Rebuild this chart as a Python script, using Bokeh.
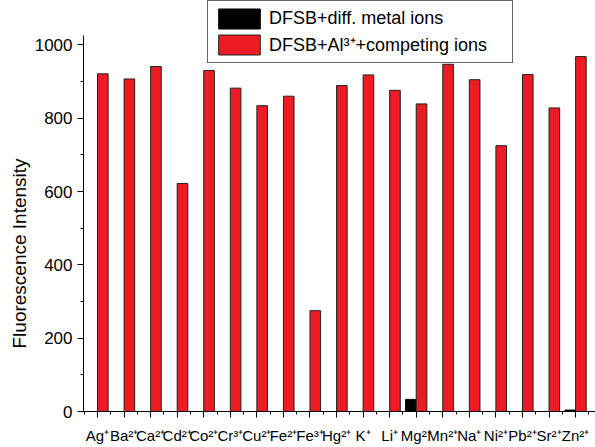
import numpy as np
from bokeh.plotting import figure
from bokeh.models import (ColumnDataSource, FixedTicker, SingleIntervalTicker,
                          Range1d, Legend, LegendItem, Title)
from bokeh.transform import dodge
from bokeh.embed import file_html
from bokeh.resources import INLINE

# ---- data ----
ions = ["Ag⁺", "Ba²⁺", "Ca²⁺", "Cd²⁺", "Co²⁺", "Cr³⁺", "Cu²⁺", "Fe²⁺", "Fe³⁺",
        "Hg²⁺", "K⁺", "Li⁺", "Mg²⁺", "Mn²⁺", "Na⁺", "Ni²⁺", "Pb²⁺", "Sr²⁺", "Zn²⁺"]
metal_only = [0, 0, 0, 0, 0, 0, 0, 0, 0, 0, 0, 0, 33, 0, 0, 0, 0, 0, 4]
with_al = [921, 907, 941, 622, 930, 882, 834, 860, 275, 889, 918, 876, 839,
           947, 905, 725, 919, 828, 968]
series_names = ["DFSB+diff. metal ions", "DFSB+Al³⁺+competing ions"]
y_title = "Fluorescence Intensity"
y_ticks_interval = 200

FONT = "Liberation Sans"

src = ColumnDataSource(dict(x=np.arange(len(ions)), a=metal_only, b=with_al))

p = figure(width=595, height=447, output_backend="svg", toolbar_location=None,
           x_range=Range1d(-0.5275, 18.75), y_range=Range1d(0, 1121),
           min_border_left=83, min_border_right=0, min_border_top=0,
           min_border_bottom=36, background_fill_color="white",
           border_fill_color="white")
p.outline_line_color = None
p.grid.visible = False

r_black = p.vbar(x=dodge("x", -0.2, range=p.x_range), top="a", width=0.4,
                 source=src, fill_color="black", line_color="black", line_width=1)
r_red = p.vbar(x=dodge("x", 0.2, range=p.x_range), top="b", width=0.4,
               source=src, fill_color="#ED1C24", line_color="#222222", line_width=1)

# x axis
xa = p.xaxis[0]
xa.ticker = FixedTicker(ticks=list(range(len(ions))),
                        minor_ticks=[i - 0.5 for i in range(len(ions) + 1)])
xa.major_label_overrides = {i: s for i, s in enumerate(ions)}
xa.major_label_text_font = FONT
xa.major_label_text_font_size = "15px"
xa.major_label_text_color = "black"
xa.major_label_standoff = 9
xa.major_tick_in = 0
xa.major_tick_out = 6
xa.minor_tick_in = 0
xa.minor_tick_out = 3
xa.axis_line_color = "black"
xa.major_tick_line_color = "black"
xa.minor_tick_line_color = "black"

# y axis
ya = p.yaxis[0]
ya.ticker = SingleIntervalTicker(interval=y_ticks_interval, num_minor_ticks=2)
ya.bounds = (0, 1025)
ya.major_label_text_font = FONT
ya.major_label_text_font_size = "17px"
ya.major_label_text_color = "black"
ya.major_label_standoff = 5
ya.major_tick_in = 0
ya.major_tick_out = 6
ya.minor_tick_in = 0
ya.minor_tick_out = 3
ya.axis_line_color = "black"
ya.major_tick_line_color = "black"
ya.minor_tick_line_color = "black"

ttl = Title(text=y_title, align="left", offset=63, standoff=4,
            text_font=FONT, text_font_size="19px", text_font_style="normal",
            text_color="black")
p.add_layout(ttl, "left")

legend = Legend(items=[LegendItem(label=series_names[0], renderers=[r_black]),
                       LegendItem(label=series_names[1], renderers=[r_red])],
                location=(124, 348.5))
legend.glyph_width = 52
legend.glyph_height = 25
legend.label_height = 25
legend.label_width = 238
legend.label_standoff = 4
legend.spacing = 1
legend.padding = 5
legend.margin = 0
legend.label_text_font = FONT
legend.label_text_font_size = "18px"
legend.label_text_color = "black"
legend.border_line_color = "#666666"
legend.border_line_width = 1
legend.border_line_alpha = 1.0
legend.background_fill_color = "white"
legend.background_fill_alpha = 1
p.add_layout(legend, "center")

open("out.html", "w").write(file_html(p, INLINE))
